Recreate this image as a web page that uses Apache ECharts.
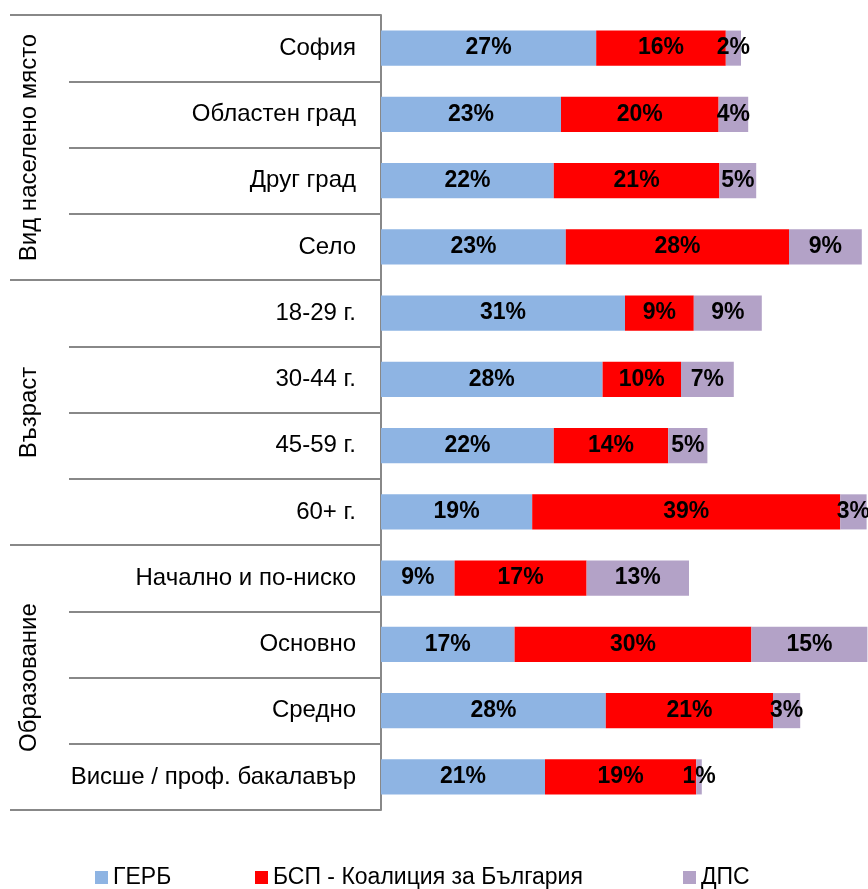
<!DOCTYPE html>
<html><head><meta charset="utf-8">
<script src="https://cdn.jsdelivr.net/npm/echarts@6/dist/echarts.min.js"></script>
<style>html,body{margin:0;padding:0;background:#fff}#c{width:868px;height:889px}</style>
</head><body><div id="c"></div>
<script>
const categories = ['София','Областен град','Друг град','Село','18-29 г.','30-44 г.','45-59 г.','60+ г.','Начално и по-ниско','Основно','Средно','Висше / проф. бакалавър'];
const groups = ['Вид населено място','Възраст','Образование'];
const seriesNames = ['ГЕРБ','БСП - Коалиция за България','ДПС'];
const gerb = [26.9,22.5,21.6,23.1,30.5,27.7,21.6,18.9,9.2,16.7,28.1,20.5];
const bsp  = [16.2,19.7,20.7,27.9,8.6,9.8,14.3,38.5,16.5,29.6,20.9,18.9];
const dps  = [1.9,3.7,4.6,9.1,8.5,6.6,4.9,3.3,12.8,14.5,3.4,0.7];
const colors = ['#8EB4E3','#FF0000','#B3A2C7'];

const FONT = 'Liberation Sans';
const lineColor = '#888888';
const chart = echarts.init(document.getElementById('c'), null, {renderer:'canvas'});
const mk = (name, data, i) => ({
  name, type:'bar', stack:'total', data, xAxisIndex:0, yAxisIndex:0,
  barWidth:'53%', clip:false,
  itemStyle:{color:colors[i]},
  label:{show:true, position:'inside', formatter:p=>Math.round(p.value)+'%',
    color:'#000', fontWeight:'bold', fontSize:23, fontFamily:FONT},
  emphasis:{disabled:true}
});
const legendAt = (name, left) => ({
  data:[name], left, top:866, padding:0, icon:'rect', itemWidth:13, itemHeight:13,
  textStyle:{fontSize:23, color:'#000', fontFamily:FONT}, selectedMode:false
});
chart.setOption({
  animation:false,
  textStyle:{fontFamily:FONT},
  grid:[
    {left:381, top:15, width:480, height:795},
    {left:69, top:15, width:312, height:795},
    {left:10, top:15, width:371, height:795}
  ],
  xAxis:[
    {type:'value', gridIndex:0, min:0, max:60, show:false},
    {type:'value', gridIndex:1, show:false},
    {type:'value', gridIndex:2, show:false}
  ],
  yAxis:[
    {type:'category', gridIndex:0, data:categories, inverse:true,
      axisLine:{show:true, lineStyle:{color:lineColor, width:2}},
      axisTick:{show:false}, splitLine:{show:false},
      axisLabel:{interval:0, margin:25, fontSize:24, color:'#000', fontFamily:FONT}},
    {type:'category', gridIndex:1, data:categories, inverse:true,
      axisLine:{show:false}, axisTick:{show:false}, axisLabel:{show:false},
      splitLine:{show:true, interval:0, lineStyle:{color:lineColor, width:2}}},
    {type:'category', gridIndex:2, data:groups, inverse:true,
      axisLine:{show:false}, axisTick:{show:false},
      axisLabel:{interval:0, inside:true, rotate:90, margin:19, align:'center', verticalAlign:'middle',
        fontSize:24, color:'#000', fontFamily:FONT},
      splitLine:{show:true, interval:0, lineStyle:{color:lineColor, width:2}}}
  ],
  legend:[legendAt(seriesNames[0],95), legendAt(seriesNames[1],255), legendAt(seriesNames[2],683)],
  series:[mk(seriesNames[0],gerb,0), mk(seriesNames[1],bsp,1), mk(seriesNames[2],dps,2)]
});
</script></body></html>
